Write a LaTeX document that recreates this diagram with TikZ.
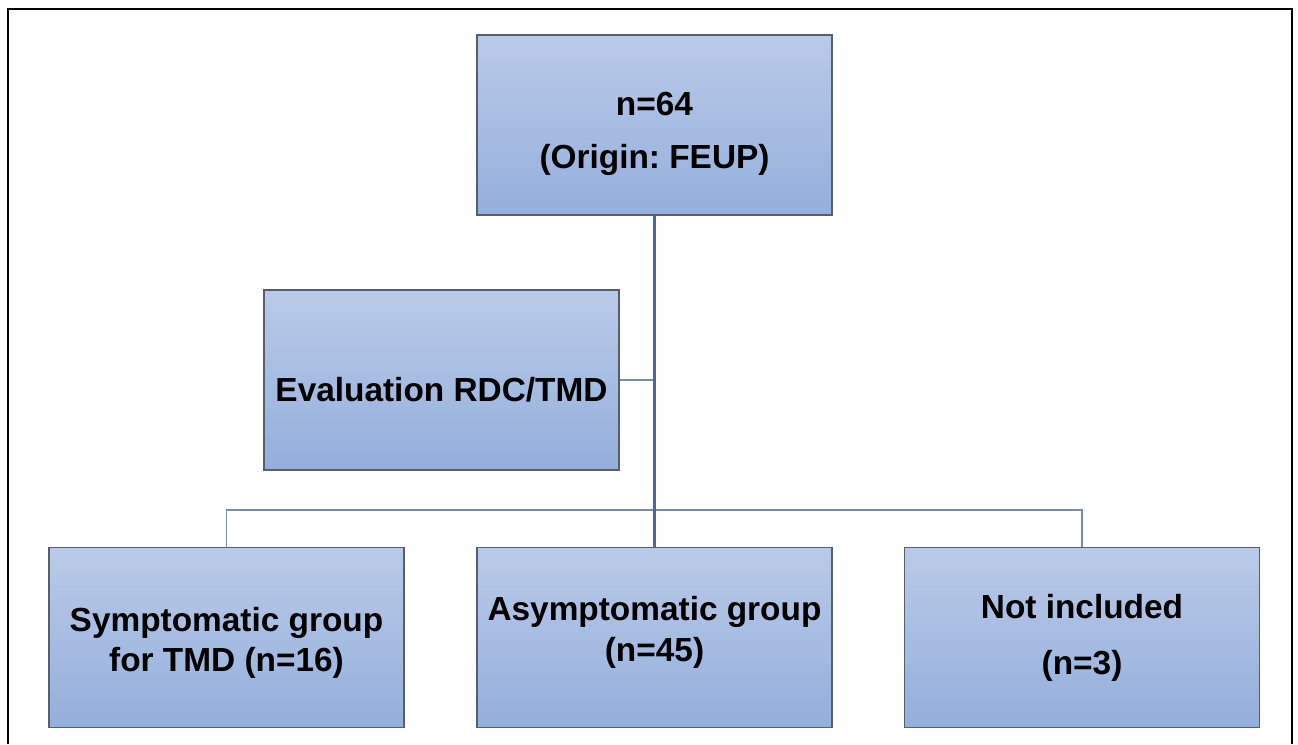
\documentclass[tikz,border=0pt]{standalone}
\usepackage{fontspec}
\setmainfont{Liberation Sans}
\frenchspacing
\definecolor{boxtop}{RGB}{186,202,232}
\definecolor{boxbottom}{RGB}{148,175,220}
\definecolor{boxline}{RGB}{85,95,110}
\definecolor{trunkline}{RGB}{74,104,150}
\definecolor{linkline}{RGB}{125,140,165}
\begin{document}
\begin{tikzpicture}[
		groupbox/.style={rectangle, draw=boxline, line width=0.8pt,
			top color=boxtop, bottom color=boxbottom,
			minimum width=7.1cm, minimum height=3.6cm, inner sep=0pt,
			align=center, font=\fontsize{19}{23}\selectfont\bfseries},
		trunk/.style={draw=trunkline, line width=1.6pt},
		link/.style={draw=linkline, line width=0.8pt}
	]
		
		\useasboundingbox (0,0) rectangle (25.96,14.88);
		\draw[line width=0.9pt] (0.16,0) -- (0.16,14.70) -- (25.84,14.70) -- (25.84,0);
		
		\node[groupbox] (origin) at (13.09,12.38) {\rule{0pt}{23pt}n=64\\[7pt](Origin: FEUP)};
		\node[groupbox] (eval) at (8.83,7.28) {\rule{0pt}{25pt}Evaluation RDC/TMD};
		
		\node[groupbox] (sympt) at (4.53,2.13) {\rule{0pt}{20pt}Symptomatic group\\for TMD (n=16)};
		\node[groupbox] (asympt) at (13.09,2.13) {Asymptomatic group\\(n=45)\rule[-10pt]{0pt}{0pt}};
		\node[groupbox] (notincl) at (21.64,2.13) {Not included\\[9pt](n=3)};
		
		\coordinate (bar) at (13.09,4.68);
		
		\draw[link] (eval.east) -- (eval.east -| origin.south);
		\draw[link] (sympt.north) -- (sympt.north |- bar) -- (notincl.north |- bar) -- (notincl.north);
		\draw[trunk] (origin.south) -- (asympt.north);
		
		\end{tikzpicture}
\end{document}
